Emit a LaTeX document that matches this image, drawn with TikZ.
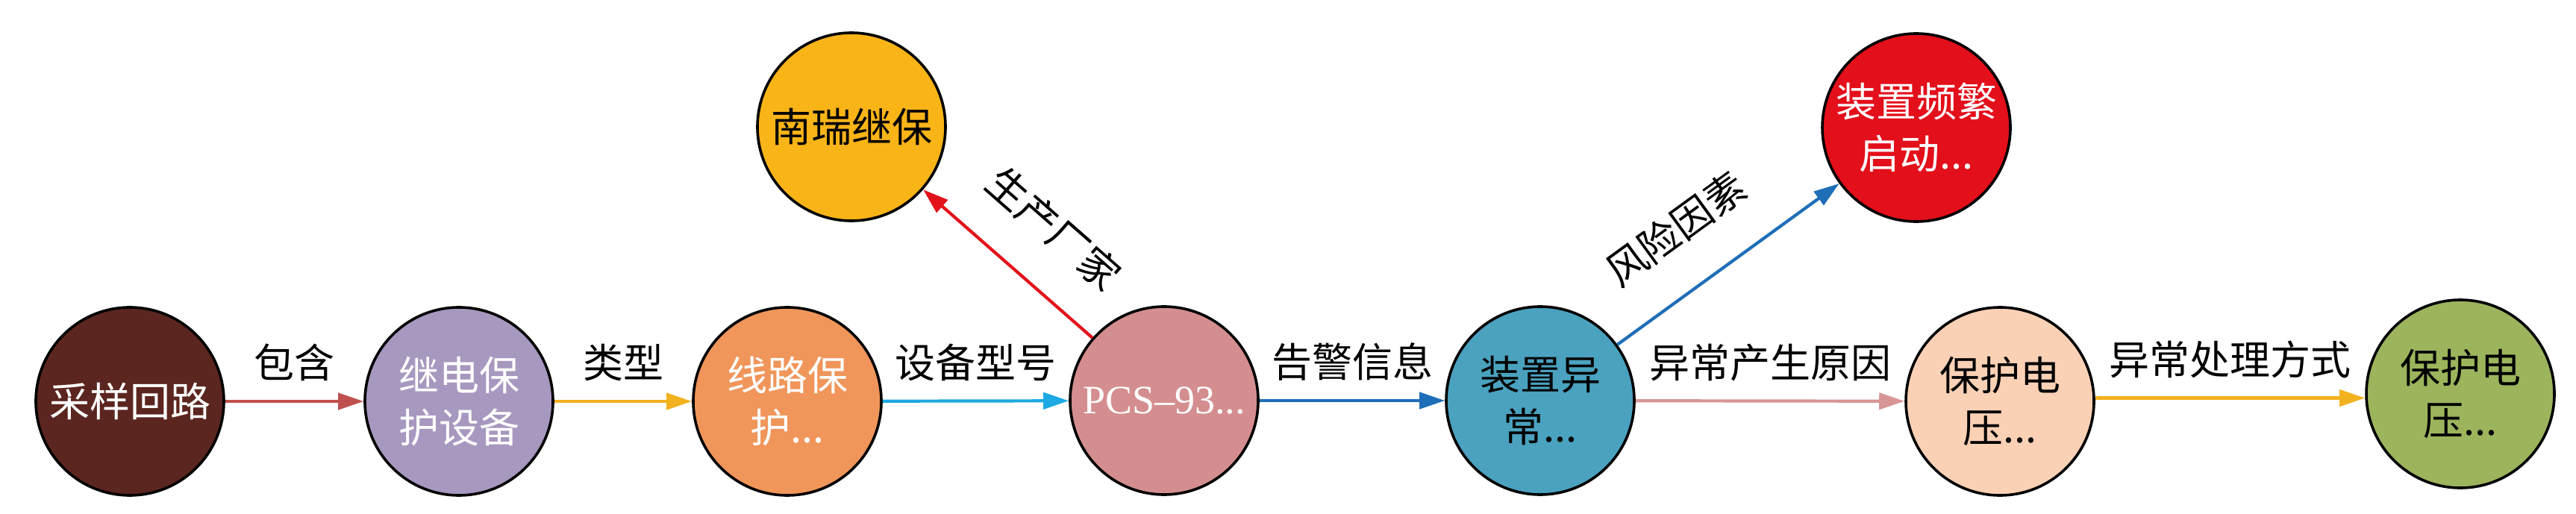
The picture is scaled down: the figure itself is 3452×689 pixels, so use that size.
\documentclass[tikz,border=0pt]{standalone}
\usepackage{fontspec}
\newfontfamily\cjk{Noto Sans CJK SC}
\newfontfamily\latf{Liberation Serif}
\usetikzlibrary{arrows.meta}
\definecolor{cA}{HTML}{5B261F}
\definecolor{cB}{HTML}{A798BF}
\definecolor{cC}{HTML}{F0965B}
\definecolor{cD}{HTML}{D48E8F}
\definecolor{cE}{HTML}{F9B418}
\definecolor{cF}{HTML}{4AA2BF}
\definecolor{cG}{HTML}{E30F1A}
\definecolor{cH}{HTML}{FBD1B6}
\definecolor{cI}{HTML}{9CB45C}
\definecolor{eAB}{HTML}{C0504D}
\definecolor{eYel}{HTML}{F2B11E}
\definecolor{eCD}{HTML}{1DA9E3}
\definecolor{eDE}{HTML}{E3121A}
\definecolor{eBlue}{HTML}{1F6EB8}
\definecolor{eFH}{HTML}{D89596}
\begin{document}
\begin{tikzpicture}[x=0.5pt,y=-0.5pt,
  ent/.style={circle, draw=black, line width=1.8pt, minimum size=126pt, inner sep=0pt,
    align=center, font=\cjk\fontsize{27}{35}\selectfont},
  rel/.style={line width=2.1pt, -{Triangle[length=17pt,width=11pt]}},
  lab/.style={font=\cjk\fontsize{27}{35}\selectfont, text=black, midway, above=9pt}]
\useasboundingbox (0,0) rectangle (3452,689);
\node[ent, fill=cA, text=white] (A) at (174,538) {采样回路};
\node[ent, fill=cB, text=white] (B) at (615,538) {继电保\\护设备};
\node[ent, fill=cC, text=white] (C) at (1055,538) {线路保\\护...};
\node[ent, fill=cD, text=white, font=\latf\fontsize{27}{35}\selectfont] (D) at (1560,537) {PCS–93...};
\node[ent, fill=cE, text=black] (E) at (1141,170) {南瑞继保};
\node[ent, fill=cF, text=black] (F) at (2064,537) {装置异\\常...};
\node[ent, fill=cG, text=white] (G) at (2568,171) {装置频繁\\启动...};
\node[ent, fill=cH, text=black] (H) at (2680,538) {保护电\\压...};
\node[ent, fill=cI, text=black] (I) at (3297,528) {保护电\\压...};
\draw[rel, draw=eAB] (A) -- node[lab]{包含} (B);
\draw[rel, draw=eYel] (B) -- node[lab]{类型} (C);
\draw[rel, draw=eCD] (C) -- node[lab]{设备型号} (D);
\draw[rel, draw=eDE] (D) -- node[lab, sloped, pos=0.45, above=12pt]{生产厂家} (E);
\draw[rel, draw=eBlue] (D) -- node[lab]{告警信息} (F);
\draw[rel, draw=eBlue] (F) -- node[lab, sloped, pos=0.42, above=14pt]{风险因素} (G);
\draw[rel, draw=eFH] (F) -- node[lab]{异常产生原因} (H);
\draw[rel, draw=eYel] (H.2.3) -- node[lab]{异常处理方式} (I.west |- H.2.3);
\end{tikzpicture}
\end{document}
